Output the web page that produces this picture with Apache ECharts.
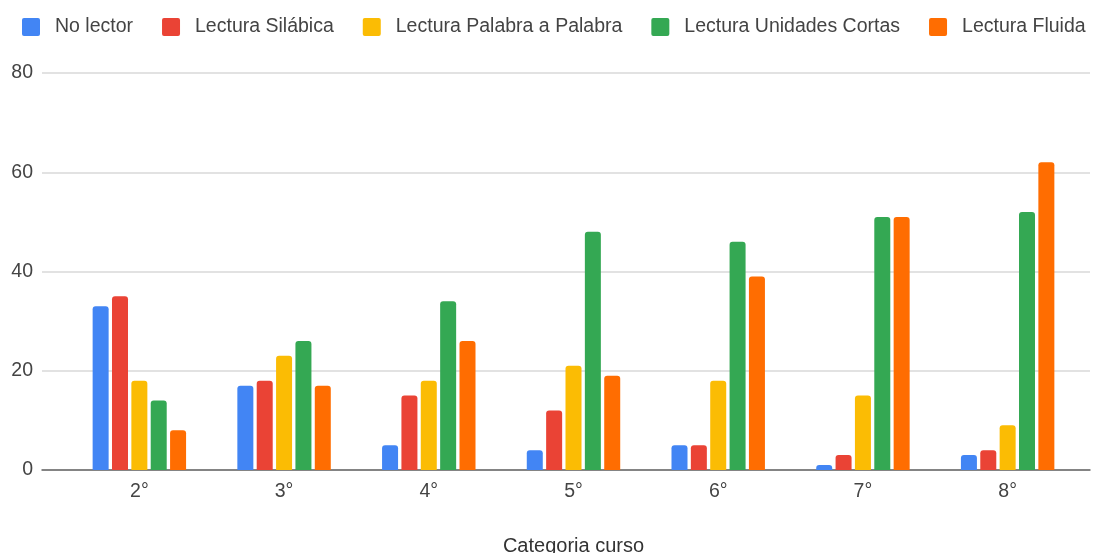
<!DOCTYPE html>
<html>
<head>
<meta charset="utf-8">
<script src="https://cdn.jsdelivr.net/npm/echarts@6/dist/echarts.min.js"></script>
<style>
html,body{margin:0;padding:0;background:#fff;}
#chart{width:1094px;height:553px;}
</style>
</head>
<body>
<div id="chart"></div>
<script>
const categories = ['2°', '3°', '4°', '5°', '6°', '7°', '8°'];
const seriesNames = ['No lector', 'Lectura Silábica', 'Lectura Palabra a Palabra', 'Lectura Unidades Cortas', 'Lectura Fluida'];
const noLector = [33, 17, 5, 4, 5, 1, 3];
const silabica = [35, 18, 15, 12, 5, 3, 4];
const palabra = [18, 23, 18, 21, 18, 15, 9];
const unidades = [14, 26, 34, 48, 46, 51, 52];
const fluida = [8, 17, 26, 19, 39, 51, 62];
const yTicks = [0, 20, 40, 60, 80];
const xTitle = 'Categoria curso';

const colors = ['#4285F4', '#EA4335', '#FBBC04', '#34A853', '#FF6D01'];
const values = [noLector, silabica, palabra, unidades, fluida];
const FONT = '"Liberation Sans", Arial, sans-serif';

const chart = echarts.init(document.getElementById('chart'), null, {renderer: 'canvas'});
const series = seriesNames.map((name, i) => ({
  name: name,
  type: 'bar',
  xAxisIndex: 0,
  yAxisIndex: 0,
  data: values[i],
  barWidth: 16,
  barGap: '21%',
  itemStyle: {color: colors[i], borderRadius: [3, 3, 0, 0]},
  emphasis: {disabled: true}
}));

chart.setOption({
  animation: false,
  backgroundColor: '#ffffff',
  textStyle: {fontFamily: FONT},
  color: colors,
  legend: {
    top: 12,
    left: 17,
    itemWidth: 18,
    itemHeight: 18,
    itemGap: 29,
    icon: 'path://M2,0 L16,0 Q18,0 18,2 L18,16 Q18,18 16,18 L2,18 Q0,18 0,16 L0,2 Q0,0 2,0 Z',
    data: seriesNames,
    textStyle: {fontFamily: FONT, fontSize: 19.5, color: '#444', padding: [0, 0, 0, 10]}
  },
  grid: [
    {left: 67, right: 14, top: 73, bottom: 83, outerBoundsMode: 'none', containLabel: false},
    {left: 42, right: 4, top: 73, bottom: 83, outerBoundsMode: 'none', containLabel: false}
  ],
  xAxis: [
    {
      type: 'category',
      gridIndex: 0,
      data: categories,
      axisLine: {show: false},
      axisTick: {show: false},
      axisLabel: {fontFamily: FONT, fontSize: 19.5, color: '#444', margin: 12},
      name: xTitle,
      nameLocation: 'middle',
      nameGap: 66,
      nameTextStyle: {fontFamily: FONT, fontSize: 20, color: '#333'}
    },
    {
      type: 'category',
      gridIndex: 1,
      data: [''],
      axisLine: {show: true, lineStyle: {color: '#666', width: 1.5}},
      axisTick: {show: false},
      axisLabel: {show: false}
    }
  ],
  yAxis: [
    {
      type: 'value',
      gridIndex: 0,
      min: 0, max: 80, interval: 20,
      axisLine: {show: false},
      axisTick: {show: false},
      axisLabel: {show: false},
      splitLine: {show: false}
    },
    {
      type: 'value',
      gridIndex: 1,
      min: yTicks[0], max: yTicks[yTicks.length - 1], interval: yTicks[1] - yTicks[0],
      axisLine: {show: false},
      axisTick: {show: false},
      axisLabel: {fontFamily: FONT, fontSize: 19.5, color: '#444', margin: 9},
      splitLine: {lineStyle: {color: '#d9d9d9', width: 1.5}}
    }
  ],
  series: series
});
</script>
</body>
</html>
